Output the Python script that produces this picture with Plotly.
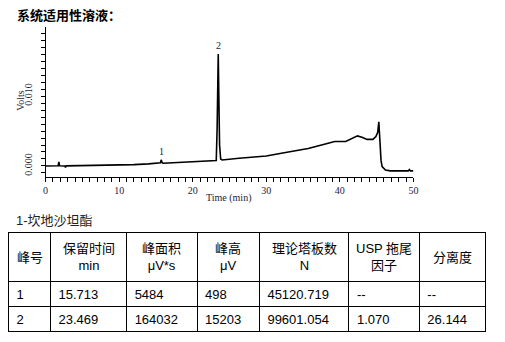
import plotly.graph_objects as go

# ---- chromatogram trace (time in min, signal in volts) ----
base_time = [0.0, 0.5, 1.0, 1.7, 1.8, 1.9, 2.6, 2.7, 2.8, 4.0, 6.0, 8.0, 10.0,
             12.0, 14.0, 15.4, 15.6, 15.85, 16.0, 18.0, 20.0, 22.0, 23.2,
             23.32, 23.40, 23.55, 23.65, 23.8, 24.0, 26.3, 28.0, 30.0, 33.0,
             35.7, 37.9, 39.3, 40.8, 41.5, 42.4, 43.0, 43.7, 44.5, 44.9,
             45.15, 45.3, 45.4, 45.5, 45.6, 45.75, 46.2, 46.85, 48.0, 49.3,
             49.45, 49.6, 50.0]
base_volts = [0.0, 0.00002, 0.0, 0.00003, 0.0006, 0.00003, 0.00001, -0.0002,
              0.00002, 0.00004, 0.00006, 0.00008, 0.00014, 0.0002, 0.0003,
              0.00035, 0.00045, 0.00045, 0.0004, 0.0005, 0.0006, 0.00072,
              0.00078, 0.0055, 0.014, 0.010, 0.003, 0.001, 0.00086, 0.0011,
              0.00125, 0.00143, 0.002, 0.0025, 0.0031, 0.0035, 0.0035, 0.0038,
              0.0043, 0.0041, 0.0038, 0.0038, 0.0042, 0.0048, 0.0063, 0.0045,
              0.002, 0.0008, -0.0001, -0.00057, -0.0007, -0.0007, -0.0007,
              -0.0005, -0.0007, -0.0007]

# ---- peak table ----
peak_no = ["1", "2"]
ret_time = [15.713, 23.469]          # min
peak_area = [5484, 164032]           # μV*s
peak_height = [498, 15203]           # μV
plates = [45120.719, 99601.054]      # N
tailing = [None, 1.070]
resolution = [None, 26.144]
peak_floor_v = [0.00038, 0.0008]     # baseline under each apex, V

header_text = ["峰号", "保留时间<br>min", "峰面积<br>μV*s", "峰高<br>μV",
               "理论塔板数<br>N", "USP 拖尾<br>因子", "分离度"]
col_widths = [42.6, 77.4, 71.6, 63.4, 91, 71.6, 67.4]

# merge apexes (baseline + stated peak height) into the trace
pts = list(zip(base_time, base_volts))
for rt, h, fl in zip(ret_time, peak_height, peak_floor_v):
    pts.append((rt, fl + h * 1e-6))
pts.sort()
t_all = [p[0] for p in pts]
v_all = [p[1] for p in pts]
apex_v = [fl + h * 1e-6 for h, fl in zip(peak_height, peak_floor_v)]

W, H = 505, 342
serif = "Liberation Serif, Times New Roman, serif"
sans = "Liberation Sans, Arial, Noto Sans CJK SC, sans-serif"
ink = "#1c1c3a"

fig = go.Figure()
fig.add_trace(go.Scatter(x=t_all, y=v_all, mode="lines",
                         line=dict(color="black", width=1.6),
                         hoverinfo="skip", showlegend=False))

for n, rt, av in zip(peak_no, ret_time, apex_v):
    fig.add_annotation(x=rt, y=av, xref="x", yref="y", text=n,
                       showarrow=False, yanchor="bottom", yshift=1,
                       font=dict(family=serif, size=10, color=ink))

def fmt(v, nd=3):
    return "--" if v is None else f"{v:.{nd}f}"

cells = [peak_no,
         [fmt(v) for v in ret_time],
         [str(v) for v in peak_area],
         [str(v) for v in peak_height],
         [fmt(v) for v in plates],
         [fmt(v) for v in tailing],
         [fmt(v) for v in resolution]]

tbl_left, tbl_right, tbl_top, tbl_bottom = 5.7, 490.7, 232.3, 331.7
head_h = 49.4
fig.add_trace(go.Table(
    domain=dict(x=[tbl_left / W, tbl_right / W],
                y=[1 - (tbl_bottom + 2) / H, 1 - tbl_top / H]),
    columnwidth=col_widths,
    header=dict(values=[""] * len(header_text), height=head_h,
                line=dict(color="black", width=1), fill=dict(color="white"),
                font=dict(family=sans, size=13, color="black")),
    cells=dict(values=cells, align="left", height=25,
               line=dict(color="black", width=1), fill=dict(color="white"),
               font=dict(family=sans, size=13, color="black")),
))

# header captions, each line centred within its column
left = tbl_left
for txt, w in zip(header_text, col_widths):
    fig.add_annotation(x=(left + w / 2) / W, y=1 - (tbl_top + head_h / 2) / H,
                       xref="paper", yref="paper", xanchor="center",
                       yanchor="middle", align="center", text=txt,
                       showarrow=False,
                       font=dict(family=sans, size=13, color="black"))
    left += w

x0, x1 = 43.3, 417.0
y_top, y_bot = 27.0, 176.7
fig.update_layout(
    width=W, height=H, margin=dict(l=0, r=0, t=0, b=0),
    paper_bgcolor="white", plot_bgcolor="white", showlegend=False,
    xaxis=dict(domain=[x0 / W, x1 / W], range=[0, 50], showgrid=False,
               zeroline=False, showline=True, linecolor="black", linewidth=1,
               ticks="outside", ticklen=4, tickcolor="black", dtick=10,
               tick0=0, minor=dict(dtick=1, ticks="outside", ticklen=4,
                                   tickcolor="black", showgrid=False),
               tickfont=dict(family=serif, size=10, color=ink),
               fixedrange=True),
    yaxis=dict(domain=[1 - y_bot / H, 1 - y_top / H],
               range=[-0.00153, 0.01986], showgrid=False, zeroline=False,
               showline=True, linecolor="black", linewidth=1,
               ticks="outside", ticklen=4, tickcolor="black", dtick=0.01,
               tick0=0, tickformat=".3f", tickangle=-90, ticklabelstandoff=5,
               minor=dict(dtick=0.001, ticks="outside", ticklen=4,
                          tickcolor="black", showgrid=False),
               tickfont=dict(family=serif, size=10, color=ink),
               fixedrange=True),
)

fig.add_annotation(x=18 / W, y=1 - 101 / H, xref="paper", yref="paper",
                   xanchor="center", yanchor="middle",
                   text="Volts", textangle=-90, showarrow=False,
                   font=dict(family=serif, size=10, color=ink))
fig.add_annotation(x=229 / W, y=1 - 198 / H, xref="paper", yref="paper",
                   xanchor="center", yanchor="middle",
                   text="Time (min)", showarrow=False,
                   font=dict(family=serif, size=10, color=ink))
fig.add_annotation(x=12 / W, y=1 - 14 / H, xref="paper", yref="paper",
                   xanchor="left", yanchor="middle",
                   text="<b>系统适用性溶液：</b>", showarrow=False,
                   font=dict(family="Noto Sans CJK SC, sans-serif", size=13,
                             color="black"))
fig.add_annotation(x=11 / W, y=1 - 220 / H, xref="paper", yref="paper",
                   xanchor="left", yanchor="middle",
                   text="1-坎地沙坦酯", showarrow=False,
                   font=dict(family=sans, size=13, color="#222222"))

fig.write_html("out.html")
